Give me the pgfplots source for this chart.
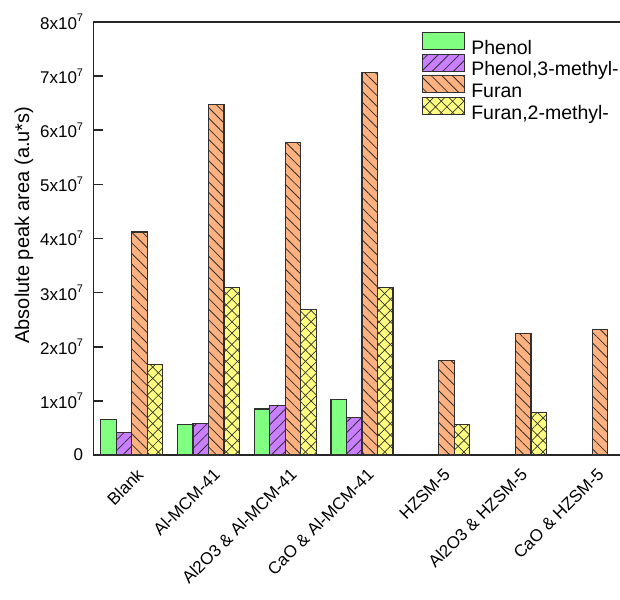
\documentclass[border=0pt]{standalone}
\usepackage{pgfplots}
\pgfplotsset{compat=1.18}
\usetikzlibrary{patterns,patterns.meta}
\usepackage{fontspec}
\setmainfont{Liberation Sans}

\definecolor{cgreen}{HTML}{80FF80}
\definecolor{cpurple}{HTML}{C97FFF}
\definecolor{corange}{HTML}{FFB280}
\definecolor{cyellow}{HTML}{FFFF80}
\definecolor{cedge}{HTML}{303030}
\newcommand{\tsup}[1]{\raisebox{7.5pt}{\fontsize{11}{12}\selectfont #1}}

\begin{document}
\begin{tikzpicture}
\clip (0,0) rectangle (620pt,599pt);
\begin{axis}[
  at={(93.3pt,144pt)}, anchor=south west,
  scale only axis, width=537.4pt, height=433pt,
  xmin=-0.5, xmax=6.5, ymin=0, ymax=8e7,
  ybar=0pt, bar width=15.5pt,
  axis line style={line width=1.6pt, black!85},
  tick pos=left,
  xtick={0,1,2,3,4,5,6},
  xticklabels={Blank, Al-MCM-41, Al2O3 \& Al-MCM-41, CaO \& Al-MCM-41, HZSM-5, Al2O3 \& HZSM-5, CaO \& HZSM-5},
  x tick style={draw=none},
  xticklabel style={xshift=4pt, yshift=-12pt, rotate=45, anchor=north east, font=\fontsize{17}{20}\selectfont, inner sep=0pt},
  scaled y ticks=false,
  ytick={0,1e7,2e7,3e7,4e7,5e7,6e7,7e7,8e7},
  yticklabels={0,1x10\tsup{7},2x10\tsup{7},3x10\tsup{7},4x10\tsup{7},5x10\tsup{7},6x10\tsup{7},7x10\tsup{7},8x10\tsup{7}},
  yticklabel style={font=\fontsize{17}{20}\selectfont, inner xsep=0pt, xshift=-10pt},
  y tick style={line width=1.6pt, black!85},
  tick align=inside, major tick length=10pt,
  ylabel={Absolute peak area (a.u*s)},
  ylabel style={at={(axis description cs:-0.129,0.531)}, anchor=center, font=\fontsize{20}{24}\selectfont},
  legend image code/.code={\draw[#1] (0pt,-0.5pt) rectangle (42pt,16.5pt);},
  legend style={at={(axis description cs:0.6117,0.9776)}, anchor=north west, draw=none, fill=none,
    font=\fontsize{19.5}{23}\selectfont, inner sep=0pt, row sep=-5pt,
    nodes={inner xsep=6pt, inner ysep=0pt, text height=15pt, text depth=4.3pt}},
  legend cell align=left,
  every axis plot/.append style={draw=cedge, line width=1.1pt},
]
\addplot[fill=cgreen] coordinates {(0,6.5e6) (1,5.7e6) (2,8.5e6) (3,1.03e7)};
\addplot[fill=cpurple, postaction={pattern={Lines[angle=45,distance=7.5pt,line width=0.8pt]}, pattern color=cedge}] coordinates {(0,4.1e6) (1,5.8e6) (2,9.1e6) (3,6.9e6)};
\addplot[fill=corange, postaction={pattern={Lines[angle=-45,distance=7.5pt,line width=0.8pt]}, pattern color=cedge}] coordinates {(0,4.12e7) (1,6.48e7) (2,5.78e7) (3,7.06e7) (4,1.74e7) (5,2.25e7) (6,2.32e7)};
\addplot[fill=cyellow, postaction={pattern={Lines[angle=45,distance=8pt,line width=0.7pt]}, pattern color=cedge}, postaction={pattern={Lines[angle=-45,distance=8pt,line width=0.7pt]}, pattern color=cedge}] coordinates {(0,1.67e7) (1,3.1e7) (2,2.68e7) (3,3.1e7) (4,5.7e6) (5,7.9e6)};
\legend{Phenol, {Phenol,3-methyl-}, Furan, {Furan,2-methyl-}}
\end{axis}
\end{tikzpicture}
\end{document}
